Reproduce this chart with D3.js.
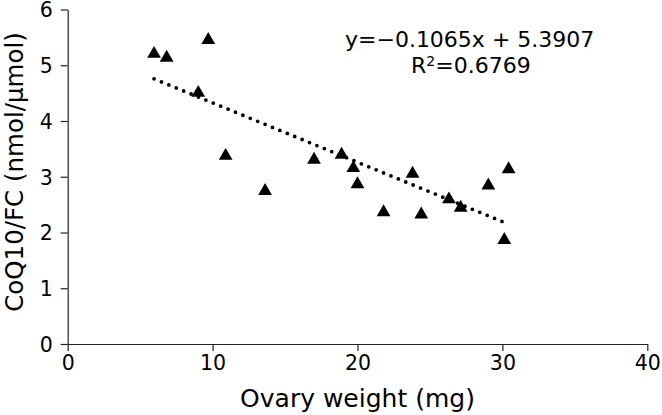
<!DOCTYPE html>
<html><head><meta charset="utf-8">
<script src="https://cdn.jsdelivr.net/npm/d3@7"></script>
<style>body{margin:0;background:#fff}svg{display:block}text{font-family:"DejaVu Sans",Verdana,sans-serif;fill:#000}</style>
</head><body>
<script>
const ovaryWeight = [5.96, 6.83, 9.7, 9.01, 10.9, 13.62, 17.0, 18.9, 19.71, 20.0, 21.8, 23.8, 24.4, 26.31, 27.12, 29.03, 30.43, 30.13];
const coq10FC     = [5.24, 5.17, 5.49, 4.54, 3.41, 2.78, 3.34, 3.43, 3.19, 2.90, 2.40, 3.09, 2.36, 2.63, 2.48, 2.88, 3.17, 1.90];
const xTicks = [0, 10, 20, 30, 40];
const yTicks = [0, 1, 2, 3, 4, 5, 6];
const slope = -0.1065, intercept = 5.3907;
const eqText = "y=\u22120.1065x + 5.3907";
const xTitle = "Ovary weight (mg)";
const yTitle = "CoQ10/FC (nmol/\u03bcmol)";

const W = 662, H = 415;
const svg = d3.select("body").append("svg").attr("width", W).attr("height", H);
const x = d3.scaleLinear().domain([0, 40]).range([67.7, 647.3]);
const y = d3.scaleLinear().domain([0, 6]).range([344, 9.5]);

const xAxis = svg.append("g").attr("transform", `translate(0,${y(0)})`)
  .call(d3.axisBottom(x).tickValues(xTicks).tickFormat(d3.format("d")).tickSize(7).tickPadding(4).tickSizeOuter(0));
const yAxis = svg.append("g").attr("transform", `translate(${x(0)},0)`)
  .call(d3.axisLeft(y).tickValues(yTicks).tickFormat(d3.format("d")).tickSize(7).tickPadding(8).tickSizeOuter(0));
[xAxis, yAxis].forEach(g => {
  g.selectAll("path,line").attr("stroke", "#222").attr("stroke-width", 1.2);
  g.selectAll("text").attr("font-size", 20.5).attr("font-family", '"DejaVu Sans",Verdana,sans-serif').attr("fill", "#000");
});
yAxis.selectAll("text").attr("dy", "0.36em");

// trendline
const xmin = d3.min(ovaryWeight), xmax = d3.max(ovaryWeight);
svg.append("line")
  .attr("x1", x(xmin)).attr("y1", y(slope * xmin + intercept))
  .attr("x2", x(xmax)).attr("y2", y(slope * xmax + intercept))
  .attr("stroke", "#000").attr("stroke-width", 3.8)
  .attr("stroke-linecap", "round").attr("stroke-dasharray", "0 8");

// points (triangle bounding box centred on the value)
const triSize = 82;
const triH = Math.sqrt(4 * triSize / Math.sqrt(3)) * Math.sqrt(3) / 2;
const tri = d3.symbol().type(d3.symbolTriangle).size(triSize);
svg.append("g").selectAll("path").data(ovaryWeight).join("path")
  .attr("d", tri)
  .attr("transform", (d, i) => `translate(${x(d)},${y(coq10FC[i]) + triH / 6})`)
  .attr("fill", "#000");

// equation
svg.append("text").attr("x", 345).attr("y", 47).attr("font-size", 22).text(eqText);
const r2 = svg.append("text").attr("x", 411).attr("y", 73).attr("font-size", 22);
r2.append("tspan").text("R");
r2.append("tspan").attr("dy", -7).attr("font-size", 14).text("2");
r2.append("tspan").attr("dy", 7).text("=0.6769");

// titles
svg.append("text").attr("x", 357.5).attr("y", 407).attr("text-anchor", "middle").attr("font-size", 25).text(xTitle);
svg.append("text").attr("transform", `translate(23,172) rotate(-90)`).attr("text-anchor", "middle").attr("font-size", 24.5).text(yTitle);
</script>
</body></html>
